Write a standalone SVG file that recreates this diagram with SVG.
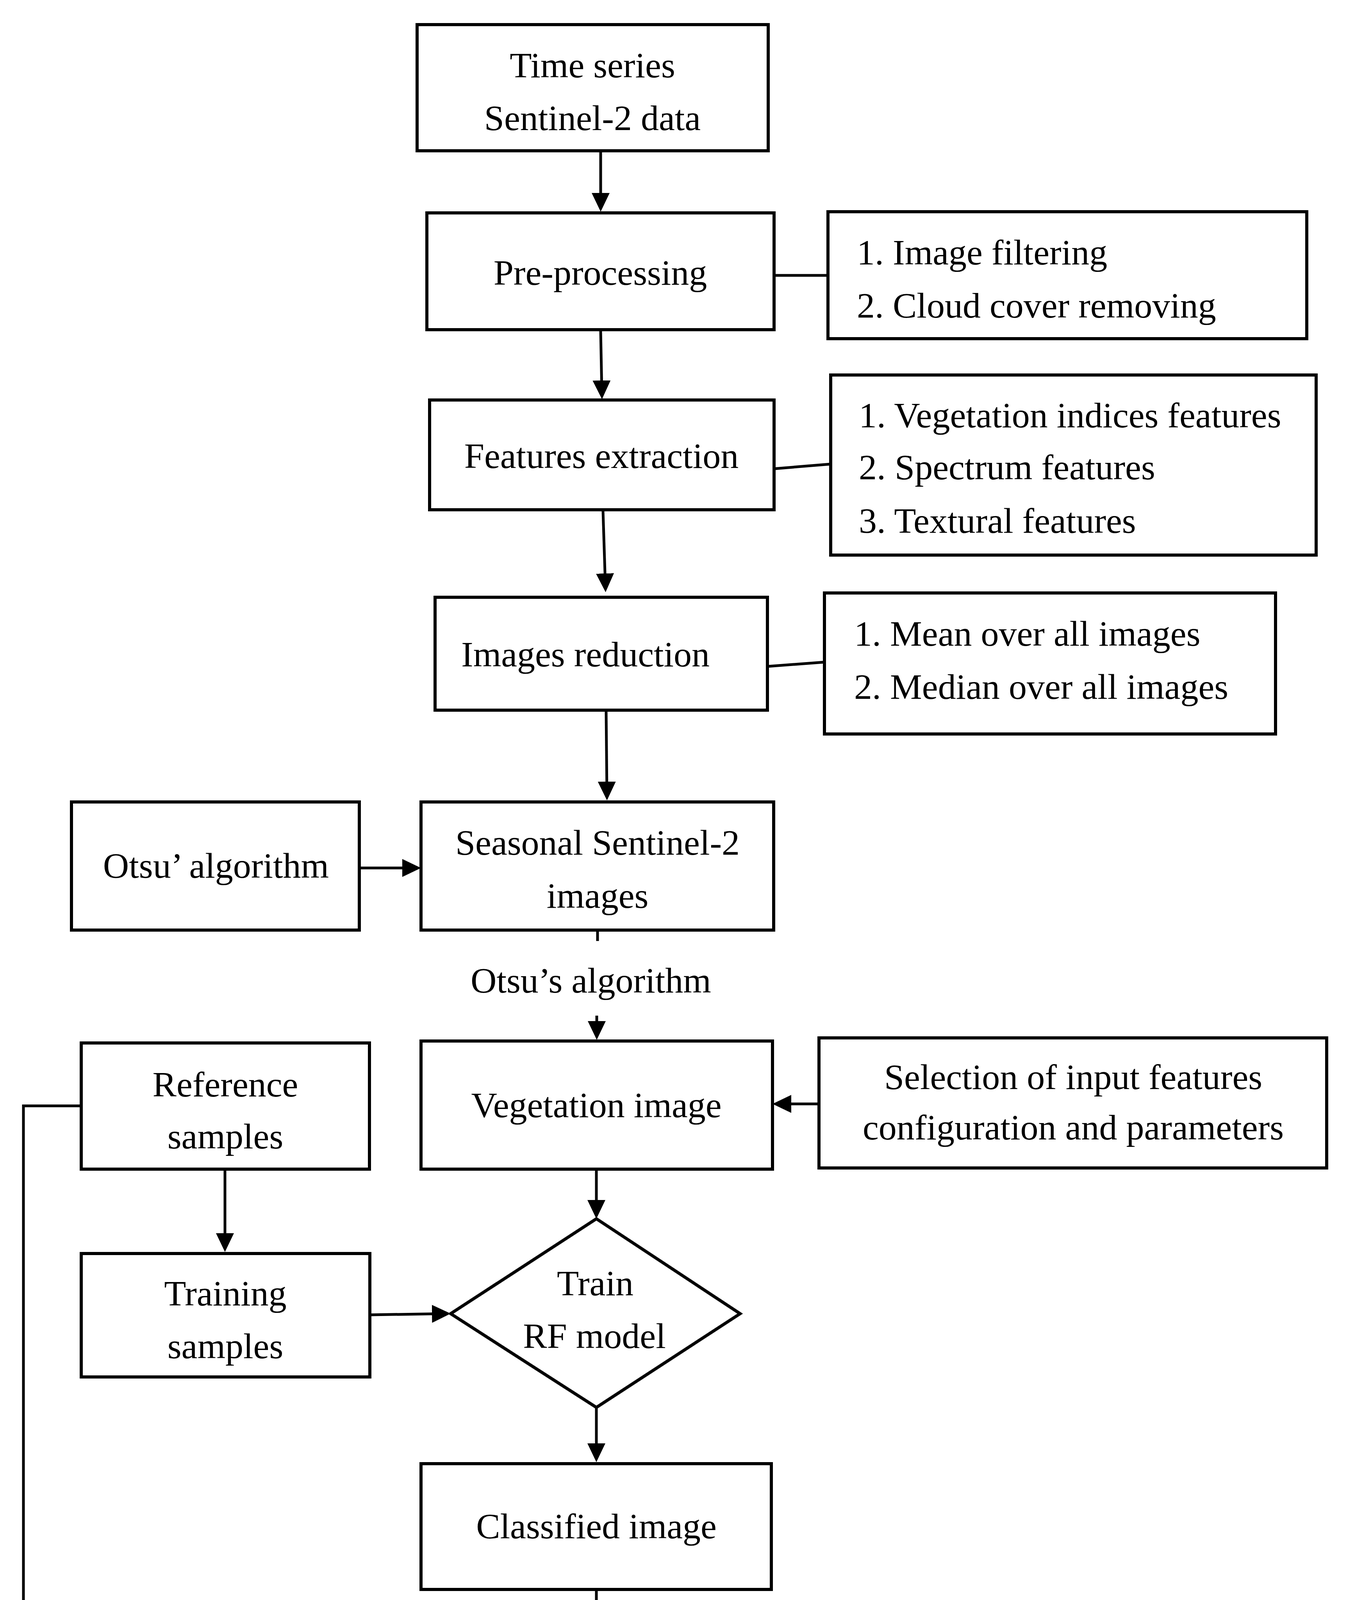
<svg xmlns="http://www.w3.org/2000/svg" width="3449" height="5087" viewBox="0 0 3449 5087">
<style>
.box{fill:#fff;stroke:#000;stroke-width:8}
.t{font-family:"Liberation Serif","Times New Roman",serif;font-size:92px;fill:#000}
.c{text-anchor:middle}
.ln{fill:none;stroke:#000;stroke-width:7}
.ar{fill:none;stroke:#000;stroke-width:7;marker-end:url(#ah)}
</style>
<defs>
<marker id="ah" viewBox="0 0 48 46" refX="28" refY="23" markerWidth="48" markerHeight="46" markerUnits="userSpaceOnUse" orient="auto">
<path d="M0,0 L48,23 L0,46 Z" fill="#000"/>
</marker>
</defs>
<rect width="3449" height="5087" fill="#fff"/>
<g id="connectors">
<line class="ar" x1="1538" y1="390" x2="1538" y2="522"/>
<line class="ln" x1="1982" y1="705" x2="2120" y2="705"/>
<line class="ar" x1="1538" y1="848" x2="1541" y2="1002"/>
<line class="ln" x1="1982" y1="1200" x2="2127" y2="1188"/>
<line class="ar" x1="1544" y1="1309" x2="1550" y2="1496"/>
<line class="ln" x1="1965" y1="1706" x2="2111" y2="1695"/>
<line class="ar" x1="1552" y1="1822" x2="1554" y2="2029"/>
<line class="ar" x1="920" y1="2222" x2="1058" y2="2222"/>
<line class="ln" x1="1530" y1="2385" x2="1530" y2="2409"/>
<line class="ar" x1="1528" y1="2600" x2="1528" y2="2642"/>
<line class="ar" x1="2097" y1="2826" x2="1998" y2="2826"/>
<polyline class="ar" points="208,2831 60,2831 60,4359 188,4359"/>
<line class="ar" x1="576" y1="2993" x2="576" y2="3185"/>
<line class="ar" x1="947" y1="3366" x2="1134" y2="3363"/>
<line class="ar" x1="1527" y1="2993" x2="1527" y2="3100"/>
<line class="ar" x1="1527" y1="3603" x2="1527" y2="3723"/>
<line class="ar" x1="1527" y1="4069" x2="1527" y2="4180"/>
<line class="ar" x1="947" y1="4358" x2="1051" y2="4360"/>
<line class="ar" x1="1527" y1="4519" x2="1530" y2="4687"/>
</g>
<g id="n-timeseries">
<rect class="box" x="1068" y="63" width="899" height="323"/>
<text class="t c" x="1517" y="198">Time series</text>
<text class="t c" x="1517" y="333">Sentinel-2 data</text>
</g>
<g id="n-preprocessing">
<rect class="box" x="1093" y="545" width="889" height="299"/>
<text class="t c" x="1537" y="729">Pre-processing</text>
</g>
<g id="n-preproc-items">
<rect class="box" x="2120" y="542" width="1226" height="325"/>
<text class="t" x="2194" y="677">1. Image filtering</text>
<text class="t" x="2194" y="813">2. Cloud cover removing</text>
</g>
<g id="n-features">
<rect class="box" x="1100" y="1024" width="882" height="281"/>
<text class="t c" x="1540" y="1198">Features extraction</text>
</g>
<g id="n-features-items">
<rect class="box" x="2127" y="960" width="1243" height="461"/>
<text class="t" x="2199" y="1094">1. Vegetation indices features</text>
<text class="t" x="2199" y="1227">2. Spectrum features</text>
<text class="t" x="2199" y="1364">3. Textural features</text>
</g>
<g id="n-reduction">
<rect class="box" x="1114" y="1529" width="851" height="289"/>
<text class="t" x="1181" y="1706">Images reduction</text>
</g>
<g id="n-reduction-items">
<rect class="box" x="2111" y="1518" width="1155" height="361"/>
<text class="t" x="2187" y="1653">1. Mean over all images</text>
<text class="t" x="2187" y="1789">2. Median over all images</text>
</g>
<g id="n-otsu">
<rect class="box" x="183" y="2053" width="737" height="328"/>
<text class="t c" x="553" y="2247">Otsu’ algorithm</text>
</g>
<g id="n-seasonal">
<rect class="box" x="1078" y="2053" width="903" height="328"/>
<text class="t c" x="1530" y="2188">Seasonal Sentinel-2</text>
<text class="t c" x="1530" y="2324">images</text>
</g>
<g id="n-otsu-label">
<text class="t c" x="1513" y="2541">Otsu’s algorithm</text>
</g>
<g id="n-vegetation">
<rect class="box" x="1078" y="2665" width="900" height="328"/>
<text class="t c" x="1527" y="2860">Vegetation image</text>
</g>
<g id="n-selection">
<rect class="box" x="2097" y="2657" width="1300" height="333"/>
<text class="t c" x="2748" y="2788">Selection of input features</text>
<text class="t c" x="2748" y="2917">configuration and parameters</text>
</g>
<g id="n-reference">
<rect class="box" x="208" y="2670" width="738" height="323"/>
<text class="t c" x="577" y="2807">Reference</text>
<text class="t c" x="577" y="2940">samples</text>
</g>
<g id="n-training">
<rect class="box" x="208" y="3209" width="739" height="316"/>
<text class="t c" x="577" y="3342">Training</text>
<text class="t c" x="577" y="3477">samples</text>
</g>
<g id="n-train-rf">
<polygon class="box" points="1527,3120 1895,3363 1527,3603 1154,3363"/>
<text class="t c" x="1524" y="3316">Train</text>
<text class="t c" x="1522" y="3451">RF model</text>
</g>
<g id="n-classified">
<rect class="box" x="1078" y="3747" width="897" height="322"/>
<text class="t c" x="1527" y="3938">Classified image</text>
</g>
<g id="n-test">
<rect class="box" x="210" y="4203" width="737" height="309"/>
<text class="t c" x="579" y="4388">Test samples</text>
</g>
<g id="n-accuracy">
<rect class="box" x="1071" y="4203" width="911" height="315"/>
<text class="t c" x="1527" y="4337">Accuracy assessment</text>
<text class="t c" x="1527" y="4470">and comparison</text>
</g>
<g id="n-final">
<rect class="box" x="1076" y="4729" width="918" height="320"/>
<text class="t c" x="1535" y="4864">Final maps of urban</text>
<text class="t c" x="1535" y="4997">green space</text>
</g>
</svg>
